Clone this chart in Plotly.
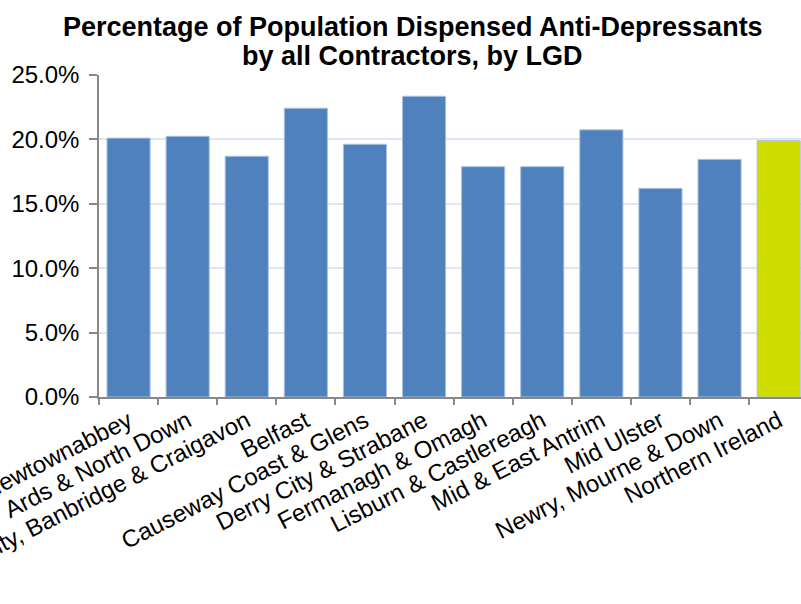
import plotly.graph_objects as go

categories = [
    "Antrim & Newtownabbey",
    "Ards & North Down",
    "Armagh City, Banbridge & Craigavon",
    "Belfast",
    "Causeway Coast & Glens",
    "Derry City & Strabane",
    "Fermanagh & Omagh",
    "Lisburn & Castlereagh",
    "Mid & East Antrim",
    "Mid Ulster",
    "Newry, Mourne & Down",
    "Northern Ireland",
]
pct_dispensed = [0.2010, 0.2024, 0.1869, 0.2242, 0.1962, 0.2335,
                 0.1788, 0.1788, 0.2074, 0.1620, 0.1845, 0.1990]
y_ticks = [0.0, 0.05, 0.10, 0.15, 0.20, 0.25]
title_lines = ["Percentage of Population Dispensed Anti-Depressants",
               "by all Contractors, by LGD"]

LGD_COLOR = "#4F81BD"
NI_COLOR = "#D0DD00"
bar_colors = [NI_COLOR if c == "Northern Ireland" else LGD_COLOR for c in categories]

FONT = "Liberation Sans, Arial, sans-serif"

fig = go.Figure()
fig.add_trace(go.Bar(
    x=categories,
    y=pct_dispensed,
    marker=dict(color=bar_colors, line=dict(color="#A9C2E0", width=1)),
    width=0.73,
    hoverinfo="x+y",
))

for txt, ypos in zip(title_lines, [1.149, 1.059]):
    fig.add_annotation(
        text="<b>" + txt + "</b>",
        xref="paper", yref="paper", x=0.4466, y=ypos,
        xanchor="center", yanchor="middle", showarrow=False,
        font=dict(family=FONT, size=27, color="black"),
    )

fig.update_layout(
    width=801,
    height=604,
    margin=dict(l=99, r=0, t=75, b=207, autoexpand=False),
    paper_bgcolor="white",
    plot_bgcolor="white",
    showlegend=False,
    font=dict(family=FONT, color="black", size=24),
    bargap=0.27,
)

fig.update_xaxes(
    range=[-0.5, 11.378],
    tickangle=-27,
    tickson="boundaries",
    ticks="outside",
    ticklen=6,
    tickcolor="#888888",
    tickwidth=1.5,
    showline=True,
    linecolor="#888888",
    linewidth=1.5,
    showgrid=False,
    automargin=False,
    ticklabelstandoff=-1,
    tickfont=dict(family=FONT, size=24, color="black"),
)
fig.update_yaxes(
    range=[0, 0.25],
    tickvals=y_ticks,
    tickformat=".1%",
    ticks="outside",
    ticklen=8,
    tickcolor="#888888",
    tickwidth=1.5,
    showline=True,
    linecolor="#888888",
    linewidth=1.5,
    showgrid=True,
    gridcolor="#DEE7F3",
    gridwidth=1.5,
    zeroline=False,
    automargin=False,
    ticklabelstandoff=5,
    tickfont=dict(family=FONT, size=24, color="black"),
)

fig.write_html(
    "out.html",
    config={"displayModeBar": False},
    post_script="document.body.style.margin='0';document.body.style.overflow='hidden';",
)
